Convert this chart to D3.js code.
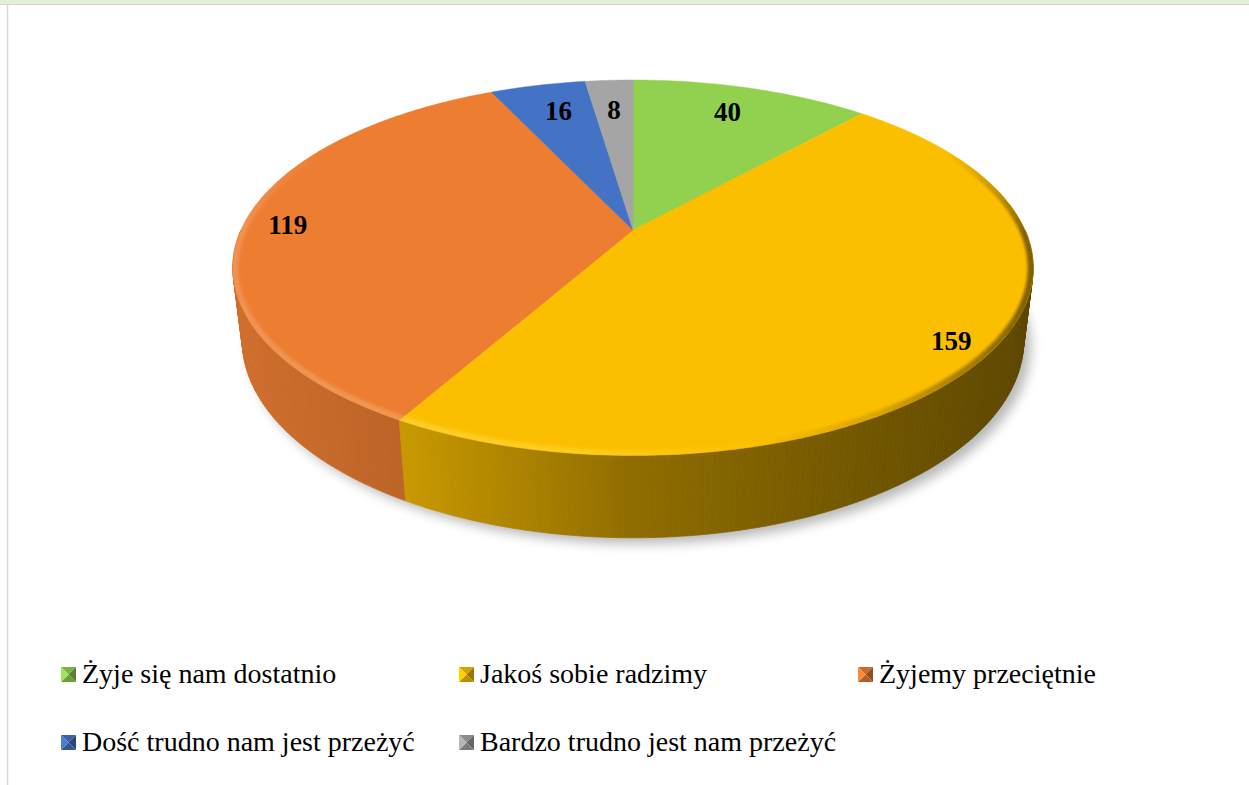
<!DOCTYPE html>
<html lang="pl">
<head>
<meta charset="utf-8">
<script src="https://cdn.jsdelivr.net/npm/d3@7/dist/d3.min.js"></script>
<style>
  html, body { margin: 0; padding: 0; background: #ffffff; }
  svg { display: block; }
</style>
</head>
<body>
<svg id="chart" width="1249" height="785"></svg>
<script>
// Answers and counts
const categories = [
  "Żyje się nam dostatnio",
  "Jakoś sobie radzimy",
  "Żyjemy przeciętnie",
  "Dość trudno nam jest przeżyć",
  "Bardzo trudno jest nam przeżyć"
];
const values = [40, 159, 119, 16, 8];
const colors = ["#92d050", "#fcbf00", "#ed7d31", "#4472c4", "#a5a5a5"];

const W = 1249, H = 785;
const SERIF = "'Liberation Serif', 'Times New Roman', Times, serif";
const svg = d3.select("#chart");
const defs = svg.append("defs");

// ---- frame of the chart area ----
svg.append("rect").attr("x", 0).attr("y", 0).attr("width", W).attr("height", 4)
  .attr("fill", "#e2efd9");
svg.append("line").attr("x1", 0).attr("x2", W).attr("y1", 4.5).attr("y2", 4.5)
  .attr("stroke", "#d4d4d4").attr("stroke-width", 1);
svg.append("line").attr("x1", 7.5).attr("x2", 7.5).attr("y1", 5).attr("y2", H)
  .attr("stroke", "#d9d9d9").attr("stroke-width", 1.5);

// ---- perspective projection of the pie disc ----
const cx = 633, cy = 230;           // apex of the slices on screen
const kx = 392, ky = 382.5;         // screen scale at the apex depth
const rr = 0.228;                   // radius / camera distance
const sinP = 0.471, cosP = 0.882;   // camera elevation
const thick = 0.216;                // disc thickness relative to radius

function proj(theta, rho, yw) {
  const X = rho * Math.sin(theta);
  const Zw = -rho * Math.cos(theta);
  const z = 1 + rr * (-Zw * cosP - yw * sinP);
  return [cx + kx * X / z, cy + ky * (Zw * sinP - yw * cosP) / z, z];
}

const pie = d3.pie().sort(null).value(d => d);
const arcs = pie(values);
const line = d3.line();
const DEG = Math.PI / 180;

// soft shadow under the disc
const shadowF = defs.append("filter").attr("id", "shadow")
  .attr("x", "-20%").attr("y", "-20%").attr("width", "140%").attr("height", "140%");
shadowF.append("feGaussianBlur").attr("stdDeviation", 6);
const baseOutline = d3.range(0, 361, 2).map(a => {
  const p = proj(a * DEG, 1, -thick);
  return [p[0] + 7, p[1] + 6];
});
svg.append("path").attr("d", line(baseOutline) + "Z")
  .attr("fill", "#000").attr("opacity", 0.28).attr("filter", "url(#shadow)");

// ---- outer wall, drawn in thin strips from far to near ----
const shade = d3.scaleLinear().domain([234, 410, 633, 1033]).range([0.88, 0.79, 0.57, 0.37]).clamp(true);
const tint = (i, f) => { const c = d3.rgb(colors[i]); return d3.rgb(c.r * f, c.g * f, c.b * f).formatHex(); };
const strips = [];
arcs.forEach((a, i) => {
  const lo = Math.max(a.startAngle, 90 * DEG);
  const hi = Math.min(a.endAngle, 270 * DEG);
  if (hi <= lo) return;
  const n = Math.max(1, Math.ceil((hi - lo) / (0.75 * DEG)));
  for (let k = 0; k < n; k++) {
    const a0 = lo + (hi - lo) * k / n, a1 = lo + (hi - lo) * (k + 1) / n;
    const t0 = proj(a0, 1, 0), t1 = proj(a1, 1, 0);
    const b1 = proj(a1, 1, -thick), b0 = proj(a0, 1, -thick);
    const mid = proj((a0 + a1) / 2, 1, 0);
    strips.push({ i, pts: [t0, t1, b1, b0].map(p => [p[0], p[1]]), z: mid[2], x: mid[0] });
  }
});
strips.sort((a, b) => b.z - a.z);
svg.append("g").selectAll("path").data(strips).join("path")
  .attr("d", d => line(d.pts) + "Z")
  .attr("fill", d => tint(d.i, shade(d.x)))
  .attr("stroke", d => tint(d.i, shade(d.x)))
  .attr("stroke-width", 0.7);

// ---- top faces ----
function topFace(a) {
  const n = Math.max(2, Math.ceil((a.endAngle - a.startAngle) / (0.5 * DEG)));
  const pts = [[cx, cy]];
  for (let k = 0; k <= n; k++) {
    const p = proj(a.startAngle + (a.endAngle - a.startAngle) * k / n, 1, 0);
    pts.push([p[0], p[1]]);
  }
  return line(pts) + "Z";
}
svg.append("g").selectAll("path").data(arcs).join("path")
  .attr("d", d => topFace(d))
  .attr("fill", (d, i) => colors[i])
  .attr("stroke", (d, i) => colors[i]).attr("stroke-width", 0.5);

// bevel along the front rim of the top face: light on the left, dark on the right
const topOutline = d3.range(0, 361, 1).map(a => { const p = proj(a * DEG, 1, 0); return [p[0], p[1]]; });
defs.append("clipPath").attr("id", "topClip").append("path").attr("d", line(topOutline) + "Z");
const rimBlur = defs.append("filter").attr("id", "rimBlur")
  .attr("x", "-5%").attr("y", "-5%").attr("width", "110%").attr("height", "110%");
rimBlur.append("feGaussianBlur").attr("stdDeviation", 1.5);
const rimTone = d3.scaleLinear().domain([234, 560, 760, 880, 1033])
  .range(["rgba(255,255,255,0.16)", "rgba(255,245,120,0.26)", "rgba(255,255,255,0.0)",
          "rgba(0,0,0,0.14)", "rgba(0,0,0,0.5)"]).clamp(true);
const rimSegs = [];
for (let a = 60; a < 300; a += 1) {
  const p0 = proj(a * DEG, 1, 0), p1 = proj((a + 1) * DEG, 1, 0);
  const fade = Math.min(1, (a - 60) / 30, (300 - a) / 30);
  rimSegs.push({ d: line([[p0[0], p0[1]], [p1[0], p1[1]]]), x: (p0[0] + p1[0]) / 2, fade });
}
svg.append("g").attr("clip-path", "url(#topClip)")
  .append("g").attr("filter", "url(#rimBlur)")
  .selectAll("path").data(rimSegs).join("path")
  .attr("d", d => d.d)
  .attr("fill", "none")
  .attr("stroke", d => rimTone(d.x))
  .attr("stroke-opacity", d => d.fade)
  .attr("stroke-width", 11).attr("stroke-linecap", "butt");

// ---- value labels, placed inside the outer edge of each slice ----
const labelG = svg.append("g");
arcs.forEach(a => {
  const mid = (a.startAngle + a.endAngle) / 2;
  const edge = proj(mid, 1, 0);
  const t = labelG.append("text")
    .attr("font-family", SERIF)
    .attr("font-weight", "bold").attr("font-size", 27)
    .attr("text-anchor", "middle").attr("dominant-baseline", "central")
    .attr("fill", "#000").text(a.data);
  const bb = t.node().getBBox();
  let ux = cx - edge[0], uy = cy - edge[1];
  const len = Math.hypot(ux, uy); ux /= len; uy /= len;
  t.attr("x", edge[0] + ux * (bb.width / 2 + 24))
   .attr("y", edge[1] + uy * 29 + 1);
});

// ---- legend ----
const legendCols = [61, 459, 858];
const legendRows = [667, 735];
const legend = svg.append("g");
categories.forEach((name, i) => {
  const x = legendCols[i % 3], y = legendRows[Math.floor(i / 3)];
  const s = 15, c = d3.rgb(colors[i]);
  const tone = f => d3.rgb(Math.min(255, c.r * f), Math.min(255, c.g * f), Math.min(255, c.b * f)).formatHex();
  const g = legend.append("g").attr("transform", `translate(${x},${y})`);
  const m = [s / 2, s / 2];
  g.append("path").attr("d", line([[0, 0], [s, 0], m]) + "Z").attr("fill", tone(0.85));
  g.append("path").attr("d", line([[s, 0], [s, s], m]) + "Z").attr("fill", tone(0.62));
  g.append("path").attr("d", line([[s, s], [0, s], m]) + "Z").attr("fill", tone(0.75));
  g.append("path").attr("d", line([[0, s], [0, 0], m]) + "Z").attr("fill", tone(1.1));
  legend.append("text")
    .attr("x", x + 21).attr("y", y + 15.5)
    .attr("font-family", SERIF)
    .attr("font-size", 28).attr("fill", "#000")
    .text(name);
});
</script>
</body>
</html>
